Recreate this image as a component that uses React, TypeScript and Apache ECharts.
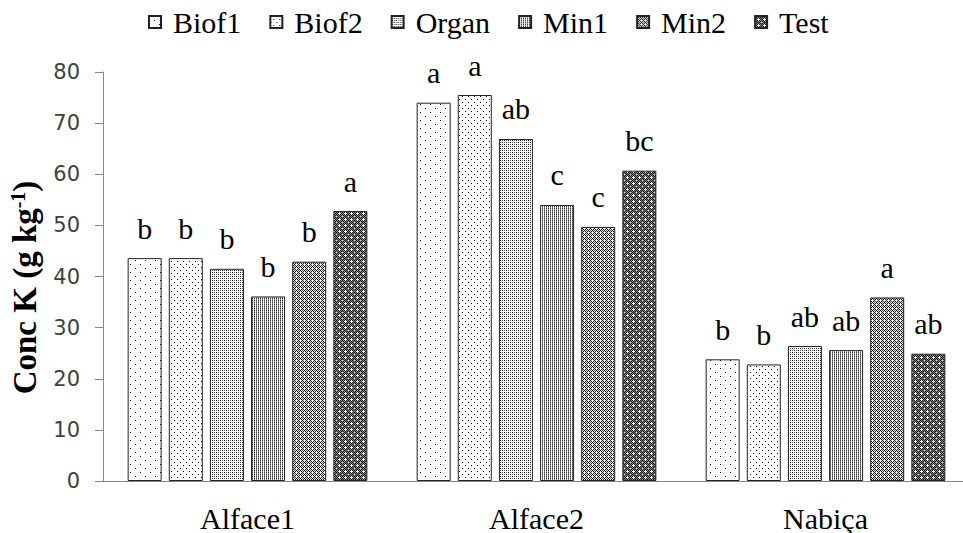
import React, { useEffect, useRef } from "react";
import * as echarts from "echarts";

const categories = ["Alface1", "Alface2", "Nabiça"];
const seriesNames = ["Biof1", "Biof2", "Organ", "Min1", "Min2", "Test"];

const biof1 = [43.6, 74.0, 23.8];
const biof2 = [43.6, 75.5, 22.8];
const organ = [41.5, 66.9, 26.4];
const min1 = [36.1, 54.0, 25.6];
const min2 = [42.9, 49.7, 35.9];
const test = [52.8, 60.7, 24.9];

const lettersBiof1 = ["b", "a", "b"];
const lettersBiof2 = ["b", "a", "b"];
const lettersOrgan = ["b", "ab", "ab"];
const lettersMin1 = ["b", "c", "ab"];
const lettersMin2 = ["b", "c", "a"];
const lettersTest = ["a", "bc", "ab"];

const yMin = 0;
const yMax = 80;
const yInterval = 10;

const seriesValues = [biof1, biof2, organ, min1, min2, test];
const seriesLetters = [lettersBiof1, lettersBiof2, lettersOrgan, lettersMin1, lettersMin2, lettersTest];

type Px = [number, number, string];

function makePattern(w: number, h: number, bg: string, pixels: Px[]) {
  const c = document.createElement("canvas");
  c.width = w;
  c.height = h;
  const ctx = c.getContext("2d")!;
  ctx.fillStyle = bg;
  ctx.fillRect(0, 0, w, h);
  for (const [x, y, col] of pixels) {
    ctx.fillStyle = col;
    ctx.fillRect(x, y, 1, 1);
  }
  return { image: c.toDataURL(), imageWidth: w, imageHeight: h, repeat: "repeat" } as any;
}

function buildPatterns() {
  const K = "#000";
  const W = "#fff";
  const p1 = makePattern(10, 8, W, [[0, 0, K], [5, 4, K]]);
  const p2 = makePattern(6, 6, W, [[0, 0, K], [3, 3, K]]);
  const p3 = makePattern(4, 4, W, [[0, 0, "#111"], [2, 2, "#111"], [2, 0, "#555"], [0, 2, "#555"]]);
  const p4 = makePattern(2, 2, W, [[0, 0, "#333"], [0, 1, "#8a8a8a"]]);
  // Min2: checker with white plus marks
  const p5px: Px[] = [];
  for (let y = 0; y < 4; y++) for (let x = 0; x < 4; x++) p5px.push([x, y, (x + y) % 2 === 0 ? "#1a1a1a" : "#e0e0e0"]);
  p5px.push([0, 0, W], [2, 2, "#666"]);
  const p5 = makePattern(4, 4, "#333", p5px);
  // Test: darker with sparse white plus marks
  const p6px: Px[] = [];
  for (let y = 0; y < 6; y++) for (let x = 0; x < 6; x++) p6px.push([x, y, (x + y) % 2 === 0 ? "#111" : "#8a8a8a"]);
  p6px.push([3, 3, W], [2, 3, W], [4, 3, W], [3, 2, W], [3, 4, W], [0, 0, "#e0e0e0"]);
  const p6 = makePattern(6, 6, "#333", p6px);
  return [p1, p2, p3, p4, p5, p6];
}

const serif = "Liberation Serif";
const sans = "DejaVu Sans";

const serifRich = (size: number, extra: any = {}) => ({
  t: { fontFamily: serif, fontSize: size, color: "#000", ...extra },
});

export default function App() {
  const ref = useRef<HTMLDivElement>(null);
  useEffect(() => {
    if (!ref.current) return;
    const chart = echarts.init(ref.current, undefined, { renderer: "svg" });
    const patterns = buildPatterns();
    const option: any = {
      animation: false,
      backgroundColor: "#fff",
      textStyle: { fontFamily: serif },
      legend: {
        top: 7,
        left: 148,
        padding: 0,
        icon: "rect",
        itemWidth: 12,
        itemHeight: 12,
        itemGap: 28,
        formatter: (name: string) => `{t|${name}}`,
        textStyle: {
          fontFamily: serif,
          fontSize: 30,
          color: "#000",
          padding: [0, 0, 0, 7],
          rich: serifRich(30),
        },
        data: seriesNames,
      },
      grid: { left: 103, top: 72, width: 867, height: 409, containLabel: false, outerBoundsMode: "none" },
      xAxis: {
        type: "category",
        data: categories,
        axisTick: { show: false },
        axisLine: { lineStyle: { color: "#868686", width: 1 } },
        axisLabel: {
          fontFamily: serif,
          fontSize: 30,
          color: "#000",
          margin: 22,
          formatter: (v: string) => `{t|${v}}`,
          rich: serifRich(30),
        },
      },
      yAxis: {
        type: "value",
        min: yMin,
        max: yMax,
        interval: yInterval,
        name: "{t|Conc K (g kg}{s|-1}{t|)}",
        nameLocation: "middle",
        nameGap: 62,
        nameTextStyle: {
          padding: [0, 22, 0, 0],
          rich: {
            t: { fontFamily: serif, fontWeight: "bold", fontSize: 33, color: "#000" },
            s: { fontFamily: serif, fontWeight: "bold", fontSize: 20, color: "#000", verticalAlign: "top" },
          },
        },
        axisLine: { show: true, lineStyle: { color: "#868686", width: 1 } },
        axisTick: { show: true, length: 8, lineStyle: { color: "#868686" } },
        splitLine: { show: false },
        axisLabel: {
          fontFamily: sans,
          fontSize: 21,
          color: "#404040",
          margin: 23,
          formatter: (v: number) => `{n|${v}}`,
          rich: { n: { fontFamily: sans, fontSize: 21, color: "#404040" } },
        },
      },
      series: seriesNames.map((name, i) => ({
        name,
        type: "bar",
        data: seriesValues[i],
        barWidth: 34,
        barGap: "21%",
        itemStyle: { color: patterns[i], borderColor: "#222", borderWidth: 1 },
        label: {
          show: true,
          position: "top",
          distance: 15,
          fontFamily: serif,
          fontSize: 30,
          color: "#000",
          formatter: (p: any) => `{t|${seriesLetters[i][p.dataIndex]}}`,
          rich: serifRich(30),
        },
      })),
    };
    chart.setOption(option);
    return () => chart.dispose();
  }, []);
  return (
    <div
      ref={ref}
      style={{ position: "fixed", left: 0, top: 0, width: 963, height: 533, background: "#fff" }}
    />
  );
}
